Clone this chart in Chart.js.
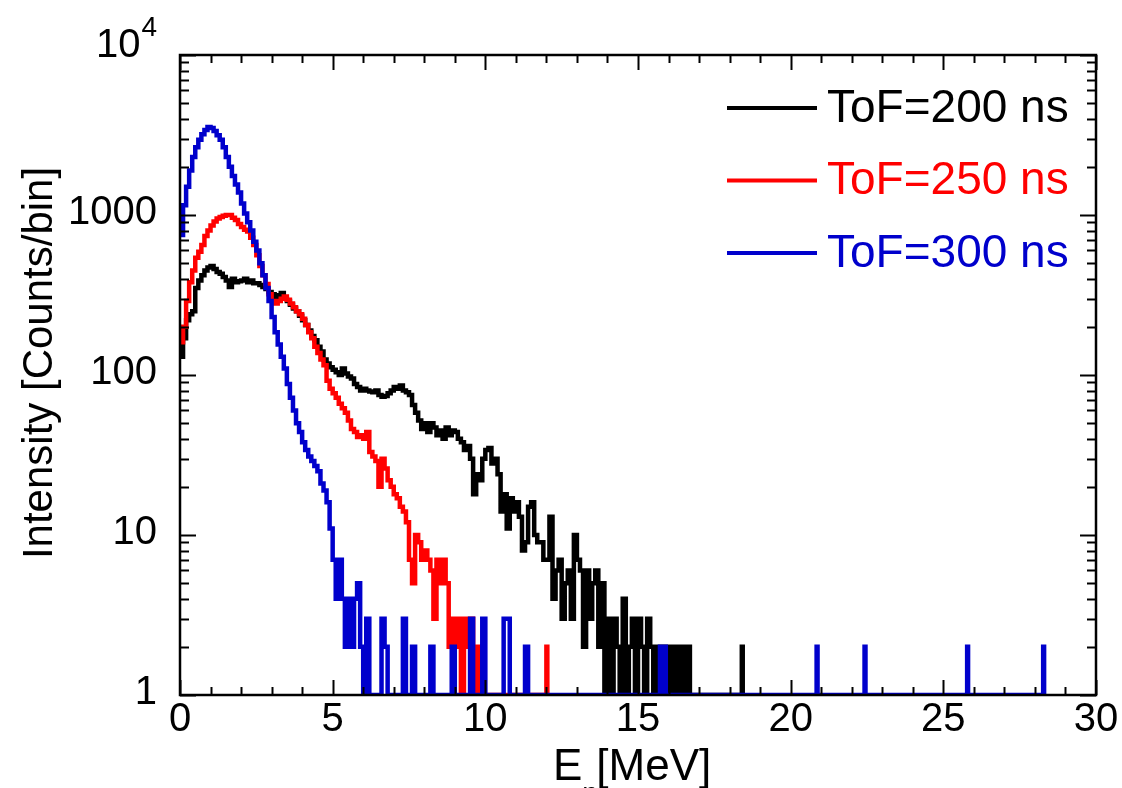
<!DOCTYPE html>
<html>
<head>
<meta charset="utf-8">
<script src="https://cdn.jsdelivr.net/npm/chart.js@4.4.1/dist/chart.umd.min.js"></script>
<style>
    html, body { margin: 0; padding: 0; background: #fff; }
</style>
</head>
<body>
<canvas id="espectro" width="1122" height="788"></canvas>
<script>
// bins de 0.1 MeV empezando en 0
var BIN = 0.1;
var SPIKE = 0.03;

var etiquetas = ['ToF=200 ns', 'ToF=250 ns', 'ToF=300 ns'];
var colores = ['#000000', '#ff0000', '#0000cc'];

var tof200 = [
    130, 170, 220, 240, 250, 350, 390, 420, 450, 470,
    480, 460, 440, 430, 410, 390, 355, 400, 380, 385,
    390, 400, 380, 390, 375, 375, 365, 355, 345, 330,
    320, 305, 315, 325, 300, 290, 275, 260, 250, 235,
    220, 205, 190, 175, 165, 150, 140, 125, 118, 112,
    108, 104, 100, 110, 102, 98, 95, 88, 84, 80,
    82, 80, 79, 78, 80, 75, 73, 74, 77, 80,
    84, 82, 86, 80, 78, 75, 65, 58, 52, 46,
    50, 44, 50, 47, 42, 45, 40, 47, 42, 45,
    44, 40, 38, 34, 36, 30, 18, 24, 22, 30,
    34, 35, 28, 30, 24, 14, 18, 11, 17, 14,
    16, 13, 8, 9, 15, 16, 10, 9, 9, 7,
    7, 13, 4, 6, 7, 3, 5, 6, 3, 10,
    7, 6, 2, 6, 3, 5, 6, 2, 5, 0,
    3, 0, 3, 2, 0, 4, 0, 2, 3, 0,
    3, 2, 0, 3, 2, 0, 2, 0, 2, 0,
    2, 0, 2, 0, 2, 0, 2
];
var tof250 = [
    160, 200, 290, 380, 450, 540, 590, 650, 740, 800,
    860, 910, 950, 970, 990, 1000, 1000, 960, 930, 880,
    840, 810, 790, 720, 650, 560, 480, 420, 370, 320,
    290, 280, 290, 300, 310, 295, 280, 265, 250, 240,
    225, 205, 185, 170, 150, 137, 125, 115, 92, 82,
    77, 72, 66, 62, 58, 52, 46, 44, 41, 42,
    40, 44, 33, 31, 29, 20, 30, 26, 22, 20,
    18, 17, 15, 14, 12, 7, 5, 10, 9, 7,
    8, 7, 6, 3, 7, 5, 7, 5, 2, 3,
    2, 3, 0, 3, 2, 3, 0, 2, 0
];
var tof300 = [
    750, 1150, 1500, 1900, 2300, 2650, 2950, 3200, 3400, 3550,
    3500, 3350, 3150, 2950, 2650, 2300, 2000, 1750, 1550, 1380,
    1180, 1020, 900, 800, 680, 600, 500, 420, 350, 290,
    230, 185, 155, 130, 110, 88, 72, 60, 50, 44,
    38, 34, 31, 29, 27, 25, 21, 19, 16, 11,
    7, 4, 7, 4, 2, 4, 2, 4, 5, 2,
    0, 3, 0, 0, 0, 0, 3, 2, 0, 0,
    0, 0, 0, 3, 0, 0, 2, 0, 0, 0,
    0, 0, 2, 0, 0, 0, 0, 0, 0, 2,
    0, 0, 0, 0, 0, 3, 0, 0, 0, 3,
    0, 0, 0, 0, 0, 0, 3, 3, 0, 0,
    0, 0, 0, 2, 0
];

// cuentas sueltas lejos de la cola [E (MeV), cuentas]
var tof200Picos = [[18.4, 2]];
var tof250Picos = [[12.0, 2]];
var tof300Picos = [[15.72, 2], [15.8, 2], [15.88, 2], [20.85, 2], [22.42, 2], [25.78, 2], [28.27, 2]];

var xTicks = [0, 5, 10, 15, 20, 25, 30];
var yTicks = [1, 10, 100, 1000, 10000];
var yTickLabels = ['1', '10', '100', '1000', '10^4'];
var tituloX = ['E', 'n', '[MeV]'];
var tituloY = 'Intensity [Counts/bin]';

var FUENTE = '"Liberation Sans", Arial, sans-serif';

// en escala log los bins vacios se quedan en el piso (1)
function puntos(valores, picos) {
    var pts = valores.map(function(v, i) {
        return { x: Math.round(i * BIN * 100) / 100, y: Math.max(v, 1) };
    });
    pts.push({ x: Math.round(valores.length * BIN * 100) / 100, y: 1 });
    picos.forEach(function(p) {
        pts.push({ x: p[0], y: p[1] });
        pts.push({ x: p[0] + SPIKE, y: 1 });
    });
    return pts;
}

function linea(ctx, x1, y1, x2, y2) {
    ctx.beginPath();
    ctx.moveTo(x1, y1);
    ctx.lineTo(x2, y2);
    ctx.stroke();
}

var ejes = {
    id: 'ejes',
    afterDatasetsDraw: function(chart) {
        var ctx = chart.ctx;
        var a = chart.chartArea;
        var sx = chart.scales.x;
        var sy = chart.scales.y;
        ctx.save();
        ctx.strokeStyle = '#000';
        ctx.lineWidth = 2;

        // ticks x hacia dentro (abajo y arriba)
        for (var v = sx.min; v <= sx.max; v++) {
            var px = Math.round(sx.getPixelForValue(v)) + 0.5;
            var lx = xTicks.indexOf(v) >= 0 ? 15 : 8;
            linea(ctx, px, a.bottom, px, a.bottom - lx);
            linea(ctx, px, a.top, px, a.top + lx);
        }
        // ticks y logaritmicos (izq. y der.)
        yTicks.forEach(function(dec) {
            for (var k = 1; k <= 9; k++) {
                var val = dec * k;
                if (val > sy.max) break;
                var py = Math.round(sy.getPixelForValue(val)) + 0.5;
                var ly = k === 1 ? 16 : 9;
                linea(ctx, a.left, py, a.left + ly, py);
                linea(ctx, a.right, py, a.right - ly, py);
            }
        });

        ctx.lineWidth = 2.5;
        ctx.strokeRect(a.left, a.top, a.right - a.left, a.bottom - a.top);

        // etiquetas
        ctx.fillStyle = '#000';
        ctx.font = '40px ' + FUENTE;
        ctx.textAlign = 'center';
        ctx.textBaseline = 'middle';
        xTicks.forEach(function(v) {
            ctx.fillText(String(v), sx.getPixelForValue(v), a.bottom + 25);
        });

        ctx.textAlign = 'right';
        yTicks.forEach(function(v, i) {
            var py = sy.getPixelForValue(v);
            var txt = yTickLabels[i];
            var xr = a.left - 23;
            if (txt.indexOf('^') >= 0) {
                var partes = txt.split('^');
                ctx.font = '28px ' + FUENTE;
                ctx.textBaseline = 'alphabetic';
                ctx.fillText(partes[1], xr, py - 19);
                var w = ctx.measureText(partes[1]).width;
                ctx.font = '40px ' + FUENTE;
                ctx.textBaseline = 'middle';
                ctx.fillText(partes[0], xr - w - 1, py - 9);
            } else {
                ctx.fillText(txt, xr, py - 2);
            }
        });

        // titulo eje y
        ctx.save();
        ctx.translate(40, (a.top + a.bottom) / 2 - 12);
        ctx.rotate(-Math.PI / 2);
        ctx.font = '42px ' + FUENTE;
        ctx.textAlign = 'center';
        ctx.textBaseline = 'middle';
        ctx.fillText(tituloY, 0, 0);
        ctx.restore();

        // titulo eje x con subindice (queda casi cortado abajo)
        ctx.textAlign = 'left';
        ctx.textBaseline = 'alphabetic';
        ctx.font = '44px ' + FUENTE;
        var x0 = 553;
        var yb = a.bottom + 85;
        ctx.fillText(tituloX[0], x0, yb);
        var wE = ctx.measureText(tituloX[0]).width;
        ctx.font = '28px ' + FUENTE;
        ctx.fillText(tituloX[1], x0 + wE, yb + 22);
        ctx.font = '44px ' + FUENTE;
        ctx.fillText(tituloX[2], x0 + wE + 14, yb);

        // leyenda
        ctx.font = '46px ' + FUENTE;
        ctx.textBaseline = 'middle';
        chart.data.datasets.forEach(function(ds, i) {
            var yl = 108 + i * 72.5;
            ctx.strokeStyle = ds.borderColor;
            ctx.lineWidth = 4;
            linea(ctx, 727, yl, 817, yl);
            ctx.fillStyle = ds.borderColor;
            ctx.fillText(ds.label, 827, yl + 1);
        });
        ctx.restore();
    }
};

var series = [tof200, tof250, tof300];
var picos = [tof200Picos, tof250Picos, tof300Picos];

var chart = new Chart(document.getElementById('espectro'), {
    type: 'line',
    data: {
        datasets: series.map(function(s, i) {
            return {
                label: etiquetas[i],
                data: puntos(s, picos[i]),
                borderColor: colores[i],
                backgroundColor: colores[i],
                borderWidth: 4.5,
                stepped: true,
                pointRadius: 0,
                fill: false,
                order: 3 - i
            };
        })
    },
    options: {
        responsive: false,
        animation: false,
        layout: {
            padding: { left: 180, top: 55, right: 26, bottom: 93 }
        },
        plugins: {
            legend: { display: false },
            tooltip: { enabled: false }
        },
        scales: {
            x: { type: 'linear', min: 0, max: 30, display: false },
            y: { type: 'logarithmic', min: 1, max: 10000, display: false }
        }
    },
    plugins: [ejes]
});
</script>
</body>
</html>
